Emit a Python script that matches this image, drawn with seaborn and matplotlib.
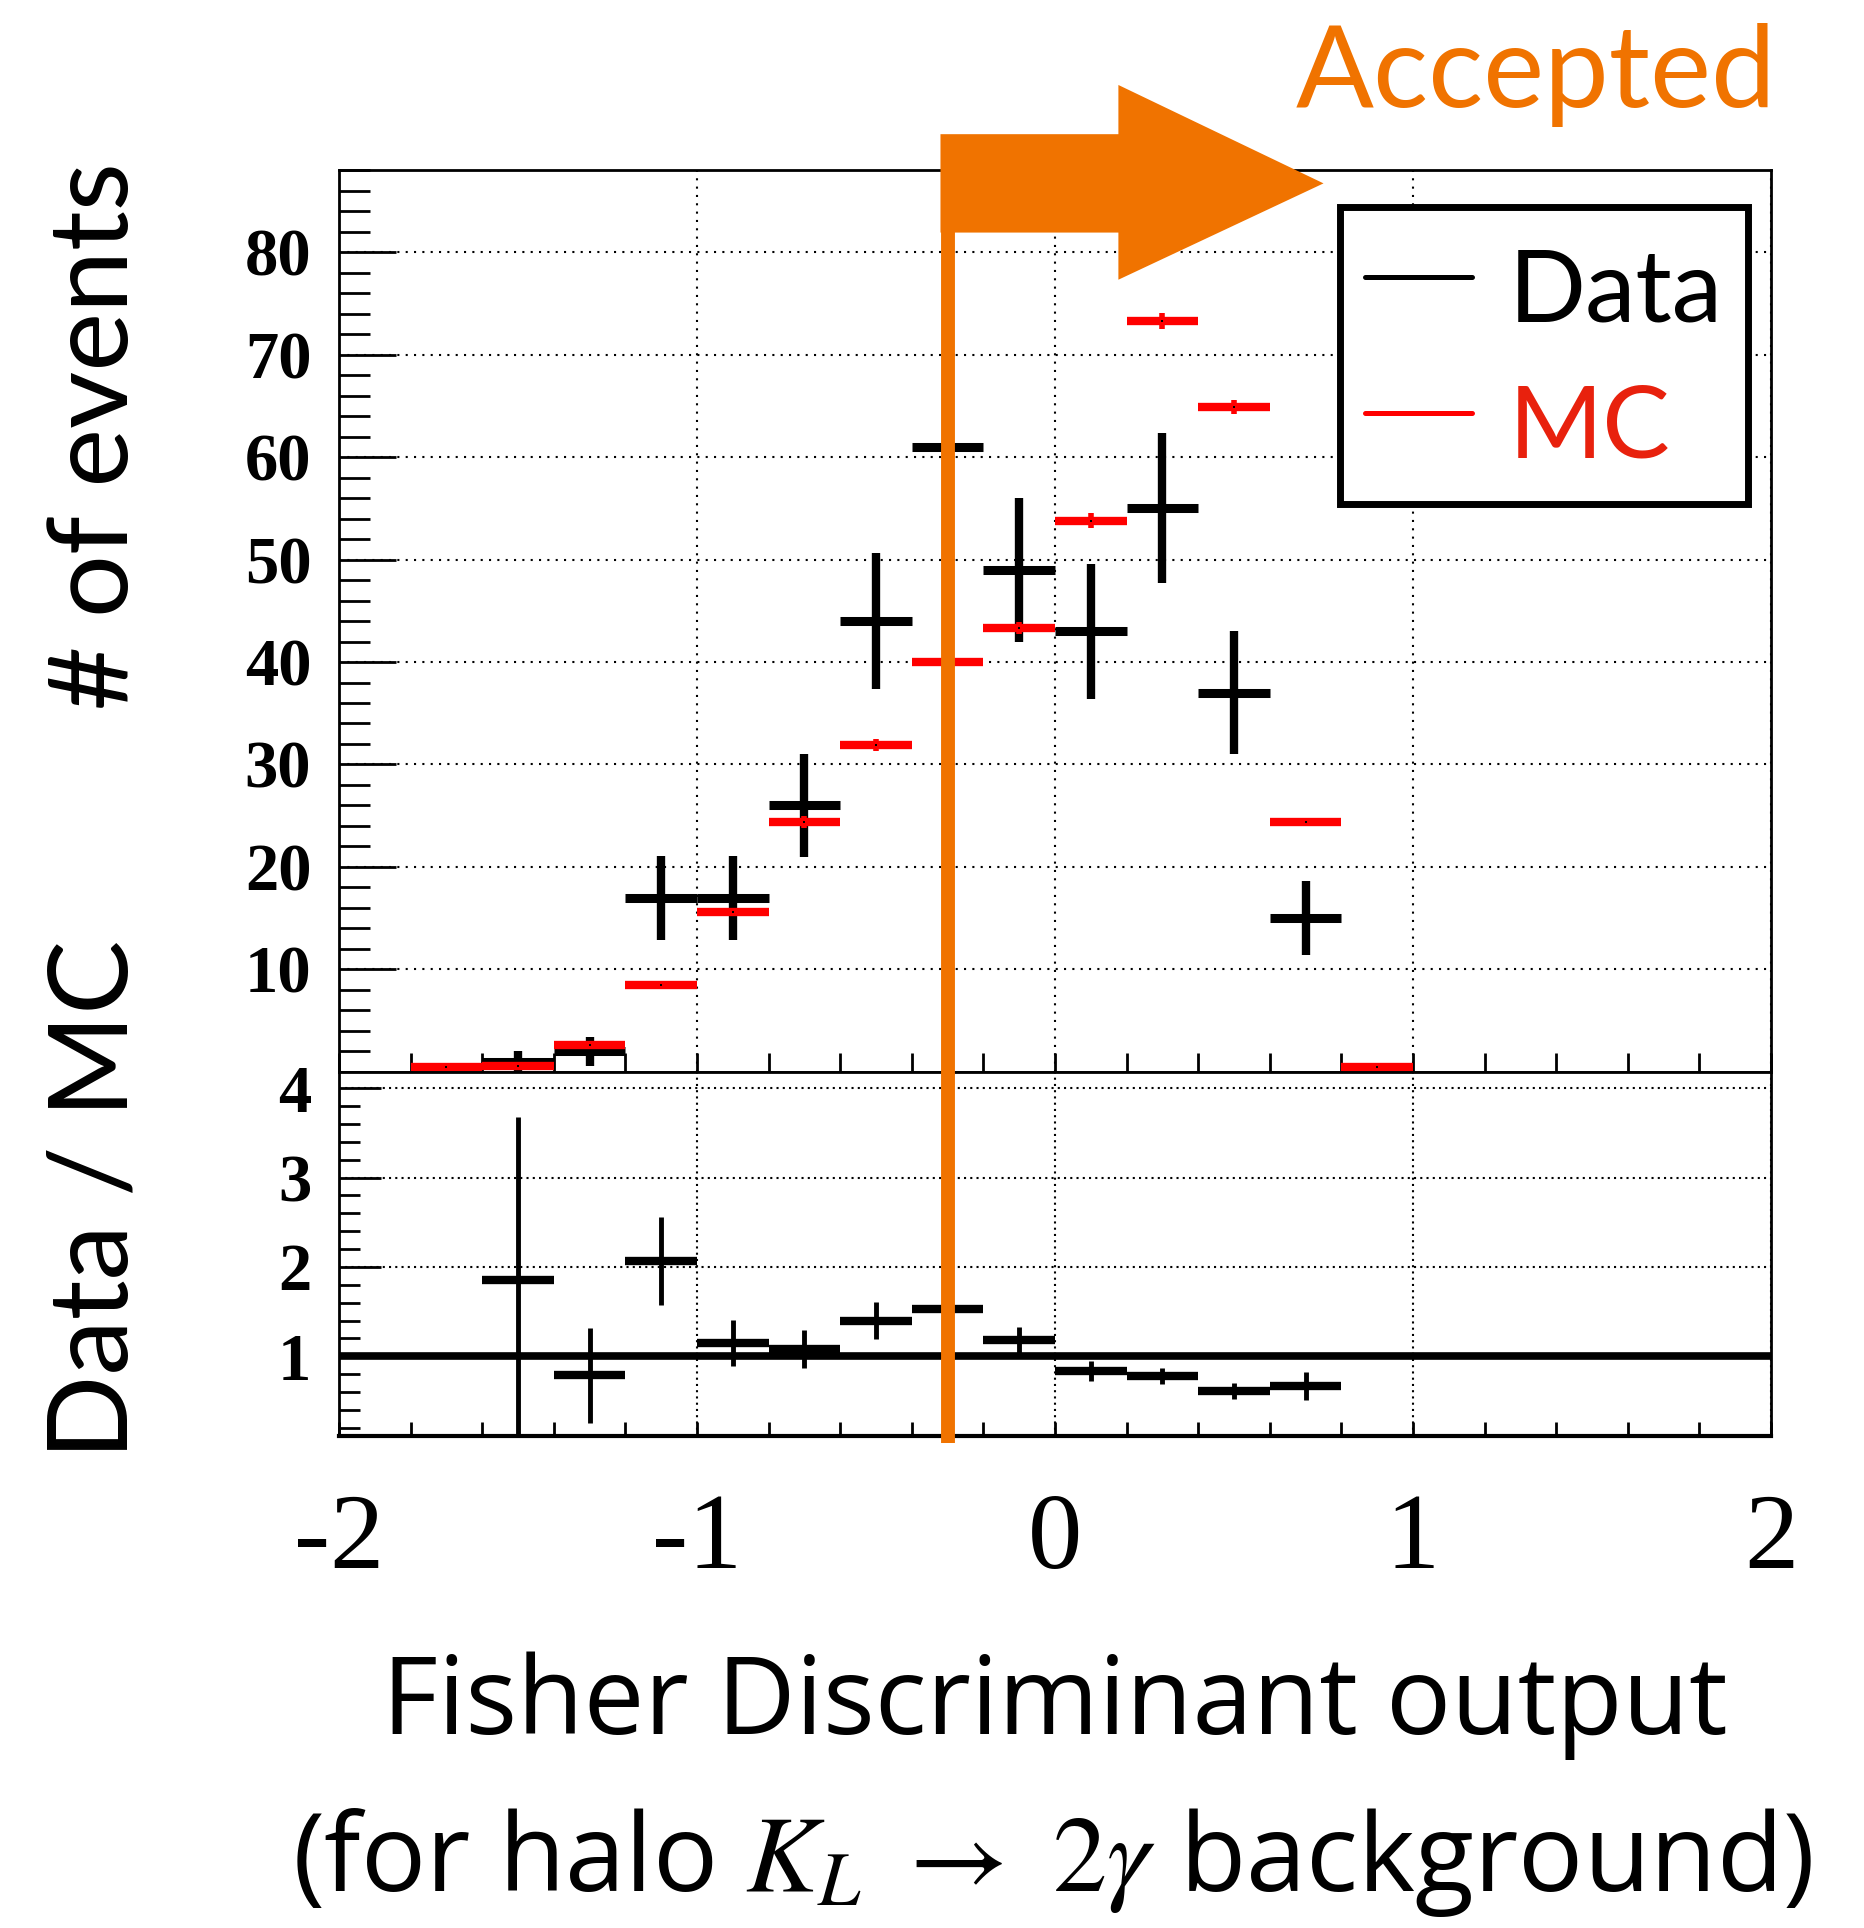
import numpy as np
import pandas as pd
import matplotlib
matplotlib.use("Agg")
import matplotlib.pyplot as plt
import matplotlib.transforms as mtransforms
from matplotlib.lines import Line2D
from matplotlib.patches import Polygon
from matplotlib.ticker import MultipleLocator
import seaborn as sns

# ---- histogram contents (bins of width 0.2) ----
bin_centers = [-1.7, -1.5, -1.3, -1.1, -0.9, -0.7, -0.5, -0.3, -0.1, 0.1, 0.3, 0.5, 0.7, 0.9]
bin_width = 0.2
data_counts = [0, 1, 2, 17, 17, 26, 44, 61, 49, 43, 55, 37, 15, 0]
data_errors = [0, 1.0, 1.4, 4.1, 4.1, 5.0, 6.6, 7.8, 7.0, 6.6, 7.3, 6.0, 3.6, 0]
mc_counts = [0.5, 0.6, 2.6, 8.5, 15.6, 24.4, 31.9, 40.0, 43.3, 53.8, 73.3, 64.9, 24.4, 0.5]
mc_errors = [0.1, 0.2, 0.4, 0.3, 0.4, 0.6, 0.6, 0.6, 0.6, 0.7, 0.8, 0.7, 0.4, 0.1]
ratio_values = [np.nan, 1.85, 0.79, 2.07, 1.15, 1.08, 1.40, 1.53, 1.18, 0.84, 0.78, 0.61, 0.67, np.nan]
ratio_errors = [np.nan, 1.83, 0.53, 0.49, 0.26, 0.21, 0.21, 0.20, 0.15, 0.11, 0.09, 0.09, 0.16, np.nan]

top_yticks = [10, 20, 30, 40, 50, 60, 70, 80]
bot_yticks = [1, 2, 3, 4]
x_ticks = [-2, -1, 0, 1, 2]
x_tick_labels = ["-2", "-1", "0", "1", "2"]
series_labels = ["Data", "MC"]
cut_value = -0.3

DATA_COLOR = "black"
MC_COLOR = "#ff0000"
MC_TEXT_COLOR = "#e8210d"
ORANGE = "#f07300"

sns.set_theme(style="ticks")
plt.rcParams["font.family"] = ["Lato", "DejaVu Sans"]
plt.rcParams["mathtext.fontset"] = "stix"
plt.rcParams["axes.unicode_minus"] = False
plt.rcParams["axes.edgecolor"] = "black"
plt.rcParams["text.color"] = "black"
plt.rcParams["axes.labelcolor"] = "black"
plt.rcParams["xtick.color"] = "black"
plt.rcParams["ytick.color"] = "black"

df = pd.DataFrame({
    "center": bin_centers,
    "data": data_counts,
    "data_err": data_errors,
    "mc": mc_counts,
    "mc_err": mc_errors,
    "ratio": ratio_values,
    "ratio_err": ratio_errors,
})
df["lo"] = df["center"] - bin_width / 2
df["hi"] = df["center"] + bin_width / 2
dat = df[df["data"] > 0]
rat = df[df["ratio"].notna()]

fig = plt.figure(figsize=(18.65, 19.28), dpi=100, facecolor="white")
ax_top = fig.add_axes([0.1818, 0.4440, 0.7678, 0.4678])
ax_bot = fig.add_axes([0.1818, 0.2552, 0.7678, 0.1888], sharex=ax_top)

# ---- upper panel: data and MC ----
ax_top.hlines(dat["data"], dat["lo"], dat["hi"], color=DATA_COLOR, lw=6.5, zorder=3)
ax_top.vlines(dat["center"], dat["data"] - dat["data_err"], dat["data"] + dat["data_err"],
              color=DATA_COLOR, lw=6.0, zorder=3)
ax_top.hlines(df["mc"], df["lo"], df["hi"], color=MC_COLOR, lw=6.0, zorder=4)
ax_top.vlines(df["center"], df["mc"] - df["mc_err"], df["mc"] + df["mc_err"],
              color=MC_COLOR, lw=4.0, zorder=4)
sns.scatterplot(data=df, x="center", y="mc", ax=ax_top, color="black", marker="s",
                s=4, linewidth=0, legend=False, zorder=5)

ax_top.set_xlim(-2, 2)
ax_top.set_ylim(0, 88)
ax_top.set_yticks(top_yticks, [str(v) for v in top_yticks],
                  fontfamily="Liberation Serif", fontweight="bold", fontsize=48)
ax_top.yaxis.set_minor_locator(MultipleLocator(2))
ax_top.set_xticks(x_ticks)
ax_top.xaxis.set_minor_locator(MultipleLocator(0.2))
ax_top.tick_params(axis="y", which="major", direction="in", length=41, width=2, pad=20)
ax_top.tick_params(axis="y", which="minor", direction="in", length=22, width=2)
ax_top.tick_params(axis="x", which="both", direction="in", length=14, width=2,
                   labelbottom=False)
ax_top.grid(True, which="major", color="black", linestyle=(0, (1, 3)), linewidth=1.5)
ax_top.set_xlabel("")
ax_top.set_ylabel("")

# ---- lower panel: ratio ----
ax_bot.axhline(1, color="black", lw=5.5, zorder=2)
ax_bot.hlines(rat["ratio"], rat["lo"], rat["hi"], color="black", lw=6, zorder=3)
ax_bot.vlines(rat["center"], rat["ratio"] - rat["ratio_err"], rat["ratio"] + rat["ratio_err"],
              color="black", lw=3.5, zorder=3)
ax_bot.set_ylim(0.11, 4.18)
ax_bot.set_yticks(bot_yticks, [str(v) for v in bot_yticks],
                  fontfamily="Liberation Serif", fontweight="bold", fontsize=48)
ax_bot.yaxis.set_minor_locator(MultipleLocator(0.2))
ax_bot.set_xticks(x_ticks, x_tick_labels, fontfamily="Liberation Serif", fontsize=78)
ax_bot.xaxis.set_minor_locator(MultipleLocator(0.2))
ax_bot.tick_params(axis="y", which="major", direction="in", length=30, width=2, pad=20)
ax_bot.tick_params(axis="y", which="minor", direction="in", length=15, width=2)
ax_bot.tick_params(axis="x", which="both", direction="in", length=10, width=2, pad=41)
ax_bot.grid(True, which="major", color="black", linestyle=(0, (1, 2)), linewidth=1.5)
ax_bot.set_xlabel("")
ax_bot.set_ylabel("")

for ax in (ax_top, ax_bot):
    ax.set_facecolor("white")
    for sp in ax.spines.values():
        sp.set_linewidth(2)
        sp.set_color("black")
        sp.set_visible(True)
ax_bot.spines["bottom"].set_linewidth(3)

# ---- cut line and "Accepted" arrow ----
blend = mtransforms.blended_transform_factory(ax_top.transData, fig.transFigure)
fig.add_artist(Line2D([cut_value, cut_value], [0.905, 0.2516], transform=blend,
                      color=ORANGE, lw=10, solid_capstyle="butt", zorder=10))
shaft_left = cut_value - 0.02
arrow_pts = [(shaft_left, 91.5), (0.177, 91.5), (0.177, 96.3), (0.75, 86.7),
             (0.177, 77.3), (0.177, 81.9), (shaft_left, 81.9)]
ax_top.add_patch(Polygon(arrow_pts, closed=True, facecolor=ORANGE, edgecolor="none",
                         clip_on=False, zorder=10))
fig.text(1296 / 1865, 1 - 107 / 1928, "Accepted", color=ORANGE, fontsize=83,
         ha="left", va="baseline")

# ---- legend ----
handles = [Line2D([], [], color=DATA_COLOR, lw=3.6), Line2D([], [], color=MC_COLOR, lw=3.6)]
leg = ax_top.legend(handles, series_labels, loc="upper left",
                    bbox_to_anchor=(1340 / 1865, 1 - 207 / 1928), bbox_transform=fig.transFigure,
                    fontsize=73, frameon=True, fancybox=False, edgecolor="black",
                    framealpha=1, handlelength=1.05, handletextpad=0.36, borderpad=0.25,
                    handleheight=1.3, labelspacing=0.25, borderaxespad=0)
leg.get_frame().set_linewidth(5)
leg.set_zorder(12)
leg.get_texts()[1].set_color(MC_TEXT_COLOR)

# ---- axis titles ----
fig.text(0.052, 0.7739, "# of events", rotation=90, ha="center", va="center", fontsize=80)
fig.text(0.052, 0.3781, "Data / MC", rotation=90, ha="center", va="center", fontsize=80)
fig.text(0.5655, 0.1006, "Fisher Discriminant output", ha="center", va="baseline",
         fontsize=78, family=["Open Sans", "DejaVu Sans"])
fig.text(0.5640, 0.0192, r"(for halo $K_L$ $\rightarrow$ $2\gamma$ background)",
         ha="center", va="baseline", fontsize=78, family=["Open Sans", "DejaVu Sans"])

fig.savefig("out.png", dpi=100, facecolor="white")
